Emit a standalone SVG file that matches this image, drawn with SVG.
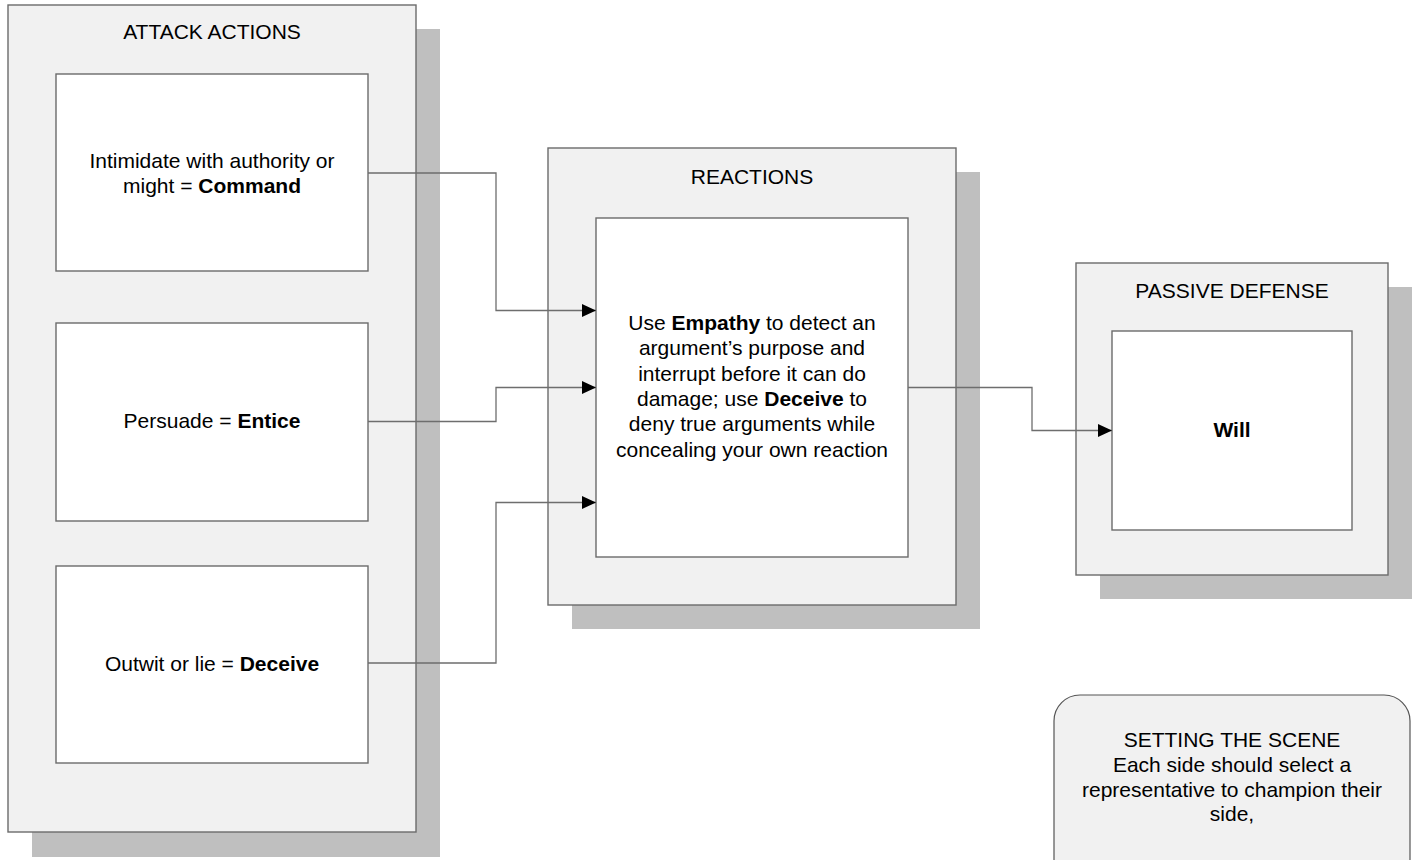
<svg xmlns="http://www.w3.org/2000/svg" width="1418" height="860" viewBox="0 0 1418 860">
<defs>
<style>
.shadow{fill:#bfbfbf;stroke:none}
.outer{fill:#f1f1f1;stroke:#6b6b6b;stroke-width:1.4}
.inner{fill:#ffffff;stroke:#6b6b6b;stroke-width:1.4}
.note{fill:#f1f1f1;stroke:#555;stroke-width:1.2}
text{font-family:"Liberation Sans",Arial,sans-serif;font-size:21px;fill:#000;text-anchor:middle}
.b{font-weight:bold}
.conn{fill:none;stroke:#6e6e6e;stroke-width:1.3}
</style>
<marker id="arrow" markerUnits="userSpaceOnUse" markerWidth="14" markerHeight="13" refX="14" refY="6.5" orient="auto">
<path d="M0,0 L14,6.5 L0,13 Z" fill="#000"/>
</marker>
</defs>
<rect width="1418" height="860" fill="#ffffff"/>

<g id="attack-actions">
<rect class="shadow" x="32" y="29" width="408" height="828"/>
<rect class="outer" x="8" y="5" width="408" height="827"/>
<text x="212" y="39">ATTACK ACTIONS</text>
</g>
<g id="command">
<rect class="inner" x="56" y="74" width="312" height="197"/>
<text x="212" y="168">Intimidate with authority or</text>
<text x="212" y="193">might = <tspan class="b">Command</tspan></text>
</g>
<g id="entice">
<rect class="inner" x="56" y="323" width="312" height="198"/>
<text x="212" y="428">Persuade = <tspan class="b">Entice</tspan></text>
</g>
<g id="deceive">
<rect class="inner" x="56" y="566" width="312" height="197"/>
<text x="212" y="671">Outwit or lie = <tspan class="b">Deceive</tspan></text>
</g>

<g id="reactions">
<rect class="shadow" x="572" y="172" width="408" height="457"/>
<rect class="outer" x="548" y="148" width="408" height="457"/>
<text x="752" y="184">REACTIONS</text>
</g>
<g id="reaction-detail">
<rect class="inner" x="596" y="218" width="312" height="339"/>
<text x="752" y="330">Use <tspan class="b">Empathy</tspan> to detect an</text>
<text x="752" y="355.3">argument’s purpose and</text>
<text x="752" y="380.6">interrupt before it can do</text>
<text x="752" y="405.9">damage; use <tspan class="b">Deceive</tspan> to</text>
<text x="752" y="431.2">deny true arguments while</text>
<text x="752" y="456.5">concealing your own reaction</text>
</g>

<g id="passive-defense">
<rect class="shadow" x="1100" y="287" width="312" height="312"/>
<rect class="outer" x="1076" y="263" width="312" height="312"/>
<text x="1232" y="298">PASSIVE DEFENSE</text>
</g>
<g id="will">
<rect class="inner" x="1112" y="331" width="240" height="199"/>
<text class="b" x="1232" y="437">Will</text>
</g>

<g id="setting-the-scene">
<rect class="note" x="1054" y="695" width="356" height="190" rx="26" ry="26"/>
<text x="1232" y="747">SETTING THE SCENE</text>
<text x="1232" y="772">Each side should select a</text>
<text x="1232" y="797">representative to champion their</text>
<text x="1232" y="821">side,</text>
</g>

<g id="connectors">
<polyline class="conn" points="368,173 496,173 496,310.5 596,310.5" marker-end="url(#arrow)"/>
<polyline class="conn" points="368,421.5 496,421.5 496,387.5 596,387.5" marker-end="url(#arrow)"/>
<polyline class="conn" points="368,663 496,663 496,502.5 596,502.5" marker-end="url(#arrow)"/>
<polyline class="conn" points="908,387.5 1032,387.5 1032,430.5 1112,430.5" marker-end="url(#arrow)"/>
</g>
</svg>
